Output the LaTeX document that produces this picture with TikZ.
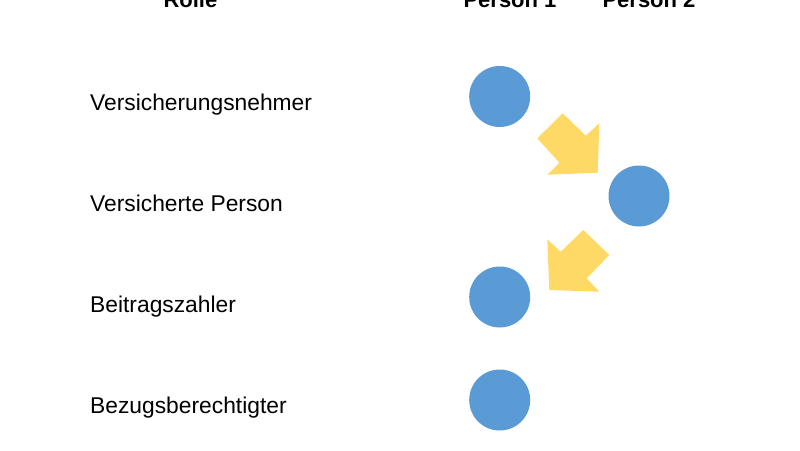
\documentclass[tikz,border=0pt]{standalone}
\usepackage{fontspec}
\setmainfont{Liberation Sans}
\definecolor{cblue}{HTML}{5B9BD5}
\definecolor{cyellow}{HTML}{FFD966}
\begin{document}
\begin{tikzpicture}[x=1pt,y=-1pt,
  lbl/.style={anchor=base west,inner sep=0pt,font=\fontsize{22.8}{27}\selectfont},
  hdr/.style={anchor=base,inner sep=0pt,font=\fontsize{22}{26}\selectfont\bfseries},
  dot/.style={circle,fill=cblue,draw=none,minimum size=61pt,inner sep=0pt},
  blockarrow/.style={fill=cyellow,draw=none}]
\useasboundingbox (0,0) rectangle (800,450);
\node[hdr,anchor=base west] (hrolle) at (163.3,7.3) {Rolle};
\node[hdr] (hp1) at (510,7.3) {Person 1};
\node[hdr] (hp2) at (649,7.3) {Person 2};
\node[lbl] (l1) at (90,110) {Versicherungsnehmer};
\node[lbl] (l2) at (90,211.5) {Versicherte Person};
\node[lbl] (l3) at (90,312) {Beitragszahler};
\node[lbl] (l4) at (90,413) {Bezugsberechtigter};
\node[dot] (c1) at (499.7,96.5) {};
\node[dot] (c2) at (639,196) {};
\node[dot] (c3) at (499.7,297) {};
\node[dot] (c4) at (499.7,400) {};
\fill[blockarrow] (537.3,138.3) -- (562.7,113.3) -- (585.7,135.7) -- (599.3,123.3) -- (597.7,172.7) -- (547.3,174.7) -- (559.3,162.7) -- cycle;
\fill[blockarrow] (547.3,239.3) -- (560.7,251.7) -- (583.3,230) -- (609.3,255) -- (586.7,278.3) -- (599.3,291.7) -- (549.3,290) -- cycle;
\end{tikzpicture}
\end{document}
